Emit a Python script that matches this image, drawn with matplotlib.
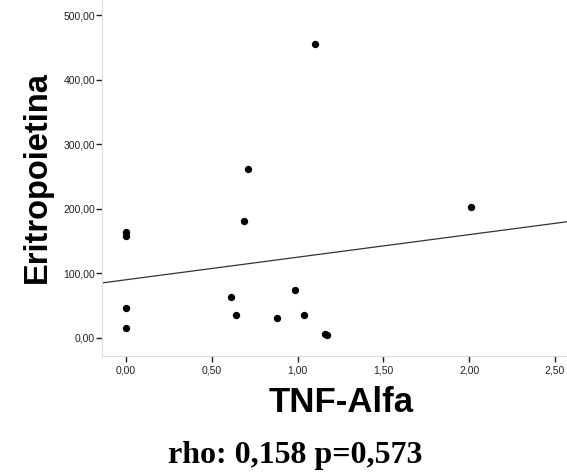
import numpy as np
import matplotlib
matplotlib.use("Agg")
import matplotlib.pyplot as plt
from matplotlib.ticker import FuncFormatter

# Data
tnf_alfa = [0.0, 0.0, 0.0, 0.0, 0.71, 0.686, 0.61, 0.643, 0.879, 0.985, 1.036, 1.16, 1.172, 1.102, 2.012]
eritropoietina = [165, 158, 47, 16, 262, 182, 64, 35, 31, 74, 35, 6, 4, 456, 203]

x_ticks = [0.0, 0.5, 1.0, 1.5, 2.0, 2.5]
y_ticks = [0, 100, 200, 300, 400, 500]

W, H, DPI = 567, 475, 100
fig = plt.figure(figsize=(W / DPI, H / DPI), dpi=DPI)
ax = fig.add_axes([102 / W, 1 - 356 / H, 1 - 102 / W, 356 / H])

ax.scatter(tnf_alfa, eritropoietina, s=28, color="black", zorder=3, linewidths=0)

xlim = (-0.14, 2.57)
ylim = (-28, 524)
coef = np.polyfit(tnf_alfa, eritropoietina, 1)
xl = np.array(xlim)
ax.plot(xl, np.polyval(coef, xl), color="#333333", lw=0.9, zorder=2)

ax.set_xlim(*xlim)
ax.set_ylim(*ylim)
ax.set_xticks(x_ticks)
ax.set_yticks(y_ticks)
fmt = FuncFormatter(lambda v, p: f"{v:.2f}".replace(".", ","))
ax.xaxis.set_major_formatter(fmt)
ax.yaxis.set_major_formatter(fmt)

for s in ["top", "right"]:
    ax.spines[s].set_visible(False)
for s in ["left", "bottom"]:
    ax.spines[s].set_color("#dedede")
    ax.spines[s].set_linewidth(0.8)

ax.tick_params(axis="both", labelsize=7.5, colors="#222222", length=4, width=1.0,
               labelcolor="#222222")
ax.tick_params(axis="x", pad=2.5)
ax.tick_params(axis="y", pad=1)
for lab in ax.get_xticklabels() + ax.get_yticklabels():
    lab.set_family("Liberation Sans")

fig.text(341 / W, 1 - 402 / H, "TNF-Alfa", ha="center", va="center",
         fontsize=25, fontweight="bold", family="Liberation Sans")
fig.text(37 / W, 1 - 177 / H, "Eritropoietina", ha="center", va="center", rotation=90,
         fontsize=23.5, fontweight="bold", family="Liberation Sans")
fig.text(295 / W, 1 - 455 / H, "rho: 0,158 p=0,573", ha="center", va="center",
         fontsize=23, fontweight="bold", family="Liberation Serif")

fig.savefig("out.png", dpi=DPI)
